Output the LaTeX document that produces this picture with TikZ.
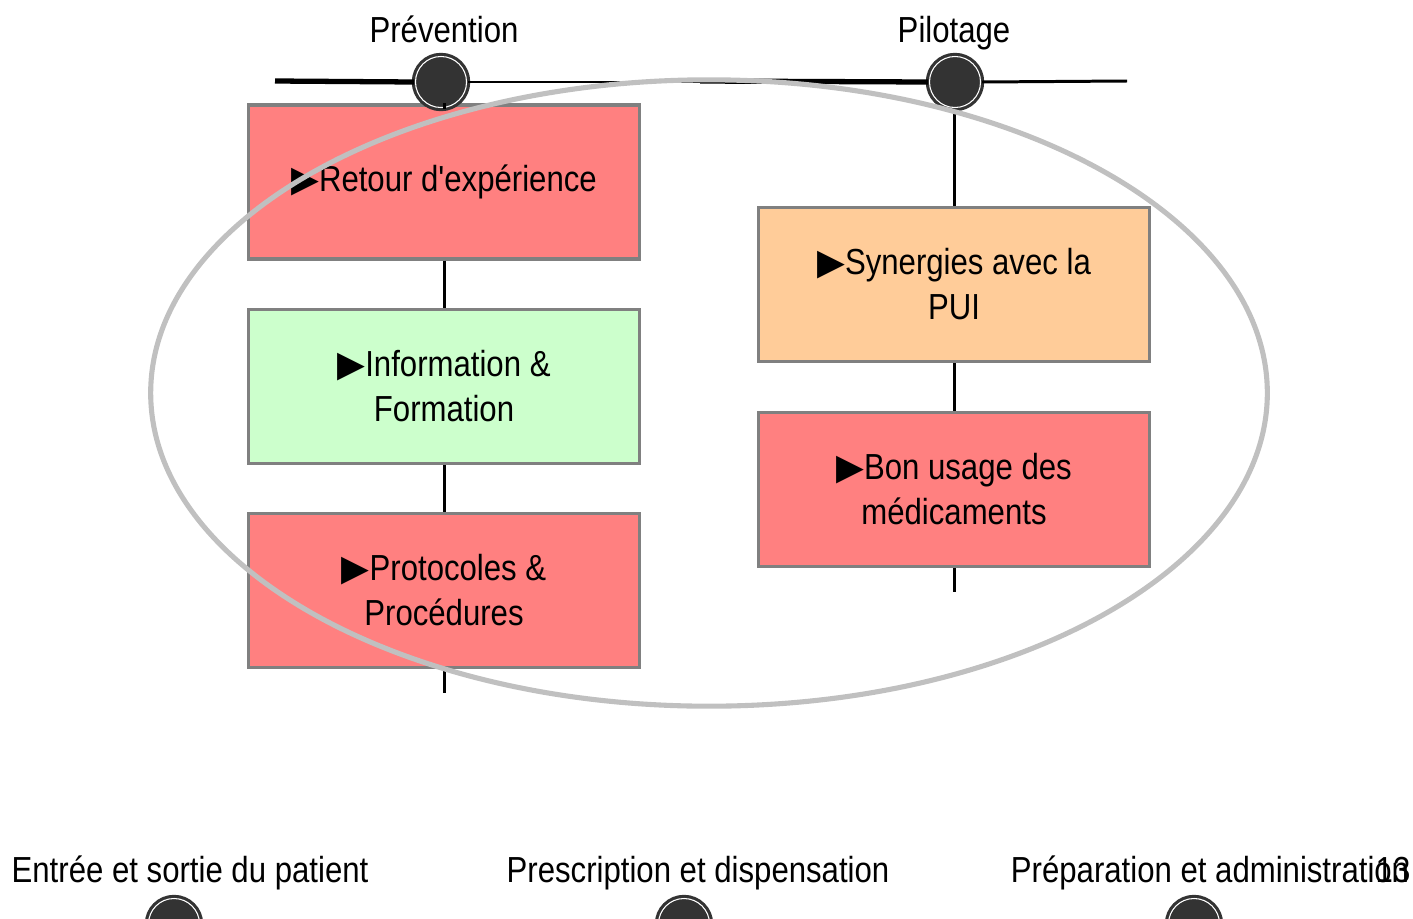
\documentclass[tikz,border=0pt]{standalone}
\usepackage{fontspec}
\setmainfont{Liberation Sans}[FakeStretch=0.86]
\newfontfamily\droit{Liberation Sans}[FakeStretch=0.86,Ligatures=TeXOff]
\newfontfamily\symfont{DejaVu Sans}
\usetikzlibrary{positioning}
\definecolor{rouge}{HTML}{FF8080}
\definecolor{vert}{HTML}{CCFFCC}
\definecolor{peche}{HTML}{FFCC99}
\definecolor{gris}{HTML}{808080}
\definecolor{clair}{HTML}{C0C0C0}
\definecolor{sombre}{HTML}{333333}
\newcommand{\tri}{{\symfont ▶}}
\tikzset{
  boite/.style={draw=gris, line width=0.9pt, minimum width=3.9cm, minimum height=1.54cm,
    align=center, inner sep=0pt, font=\fontsize{10.3}{12.8}\selectfont},
  rond/.style={circle, draw=sombre, fill=sombre, double=white, double distance=0.3pt,
    line width=0.9pt, minimum size=0.51cm, inner sep=0pt},
  lien/.style={line width=0.85pt},
  lbl/.style={font=\fontsize{10.3}{12.8}\selectfont, inner sep=0pt, anchor=base}
}
\begin{document}
\begin{tikzpicture}[x=0.01cm,y=-0.01cm]
\useasboundingbox (0,0) rectangle (1413,918);
\node[lbl] (tprev) at (444,42) {Prévention};
\node[lbl] (tpil) at (954,42) {Pilotage};
\coordinate (lg) at (275,81);
\coordinate (lm) at (700,81);
\coordinate (ld) at (1127,81);
\node[boite,fill=rouge] (r1) at (444,182) {\raisebox{-1.2pt}{\tri Retour d{\droit'}expérience}};
\node[boite,fill=vert] (r2) at (444,386.5) {\tri Information \&\\Formation};
\node[boite,fill=rouge] (r3) at (444,590.5) {\tri Protocoles \&\\Procédures};
\node[boite,fill=peche] (s1) at (954,284.5) {\tri Synergies avec la\\PUI};
\node[boite,fill=rouge] (s2) at (954,489.5) {\tri Bon usage des\\médicaments};
\coordinate (r4) at (444,693);
\coordinate (s3) at (954,592);
\node[rond] (prev) at (441,82) {};
\node[rond] (pil) at (955,82) {};
\draw[line width=1.5pt] (lg) -- (prev.west);
\draw[lien] (prev.east) -- (pil.west);
\draw[line width=1.5pt] (lm) -- (pil.west);
\draw[lien] (pil.east) -- (ld);
\draw[lien] (r1.north) -- (r1.north |- prev.south);
\draw[lien] (r1.south) -- (r2.north);
\draw[lien] (r2.south) -- (r3.north);
\draw[lien] (r3.south) -- (r4);
\draw[lien] (s1.north) -- (s1.north |- pil.south);
\draw[lien] (s1.south) -- (s2.north);
\draw[lien] (s2.south) -- (s3);
\draw[clair, line width=1.45pt] (709,393) ellipse [x radius=5.58cm, y radius=3.13cm];
\node[lbl] (tent) at (190,882) {Entrée et sortie du patient};
\node[lbl] (tpres) at (698,882) {Prescription et dispensation};
\node[lbl] (tprep) at (1210,882) {Préparation et administration};
\node[lbl] (num) at (1393,882) {13};
\node[rond] (ent) at (174,924) {};
\node[rond] (pres) at (684,924) {};
\node[rond] (prep) at (1194,924) {};
\end{tikzpicture}
\end{document}
